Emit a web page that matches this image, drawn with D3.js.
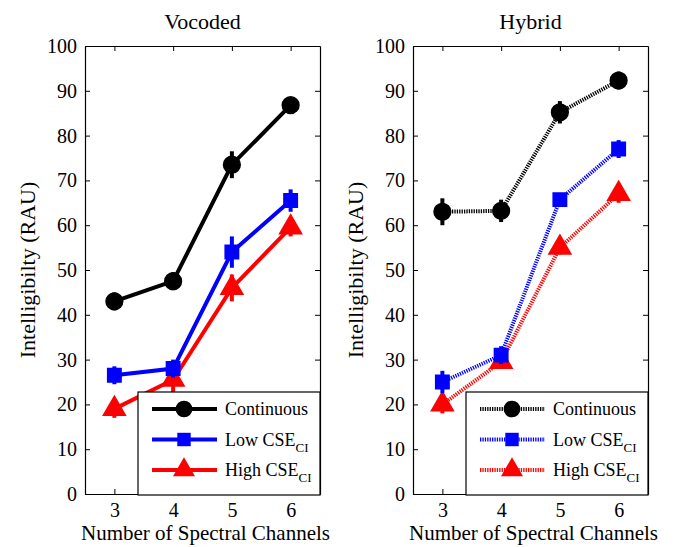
<!DOCTYPE html>
<html>
<head>
<meta charset="utf-8">
<script src="https://cdn.jsdelivr.net/npm/d3@7"></script>
<style>
  body { margin: 0; background: #fff; }
</style>
</head>
<body>
<svg id="chart" width="674" height="547"></svg>
<script>
// data
const channels = [3, 4, 5, 6];
const yTicks = [0, 10, 20, 30, 40, 50, 60, 70, 80, 90, 100];

const vocContinuous = [43, 47.5, 73.5, 86.8];
const vocContinuousErr = [2, 2, 3, 1.5];
const vocLow = [26.5, 28, 54, 65.5];
const vocLowErr = [2, 2, 3.5, 2.5];
const vocHigh = [19, 25.5, 46, 59.5];
const vocHighErr = [2, 3, 3, 2];

const hybContinuous = [63, 63.2, 85.2, 92.3];
const hybContinuousErr = [3, 2.5, 2.5, 2];
const hybLow = [25, 31, 65.7, 77];
const hybLowErr = [2.5, 2, 1.5, 2];
const hybHigh = [20, 29.5, 55, 67];
const hybHighErr = [2, 1.5, 1.5, 2];

const seriesNames = ["Continuous", "Low CSE", "High CSE"];
const colors = ["#000", "#0000ff", "#ff0000"];
const shapes = [d3.symbolCircle, d3.symbolSquare, d3.symbolTriangle];
const shapeSizes = [220, 180, 210];

const serif = "Liberation Serif, Times New Roman, Times, DejaVu Serif, serif";
const svg = d3.select("#chart");
const plotTop = 46, plotBottom = 494;

const panels = [
  { title: "Vocoded", left: 85, right: 320, dash: null,
    data: [[vocContinuous, vocContinuousErr], [vocLow, vocLowErr], [vocHigh, vocHighErr]] },
  { title: "Hybrid", left: 413, right: 648, dash: "1.3,1.1",
    data: [[hybContinuous, hybContinuousErr], [hybLow, hybLowErr], [hybHigh, hybHighErr]] }
];

function label(sel, size) {
  return sel.attr("font-family", serif).attr("font-size", size).attr("fill", "#000");
}

panels.forEach(function(p) {
  let x = d3.scaleLinear().domain([2.5, 6.5]).range([p.left, p.right]);
  let y = d3.scaleLinear().domain([0, 100]).range([plotBottom, plotTop]);
  let g = svg.append("g");

  // axes on all four sides (box)
  let axes = [
    g.append("g").attr("transform", "translate(0," + plotBottom + ")")
      .call(d3.axisBottom(x).tickValues(channels).tickFormat(d3.format("d")).tickSizeInner(-5).tickSizeOuter(0).tickPadding(9)),
    g.append("g").attr("transform", "translate(0," + plotTop + ")")
      .call(d3.axisTop(x).tickValues(channels).tickFormat("").tickSizeInner(-5).tickSizeOuter(0)),
    g.append("g").attr("transform", "translate(" + p.left + ",0)")
      .call(d3.axisLeft(y).tickValues(yTicks).tickSizeInner(-5).tickSizeOuter(0).tickPadding(8)),
    g.append("g").attr("transform", "translate(" + p.right + ",0)")
      .call(d3.axisRight(y).tickValues(yTicks).tickFormat("").tickSizeInner(-5).tickSizeOuter(0))
  ];
  axes.forEach(function(a) { a.attr("font-family", serif).attr("font-size", 20); });
  g.selectAll(".domain").attr("stroke", "#000").attr("stroke-width", 1.2);
  g.selectAll(".tick line").attr("stroke", "#000");
  g.selectAll(".tick text").attr("fill", "#000");

  label(g.append("text"), 22).attr("x", (p.left + p.right) / 2).attr("y", 29)
    .attr("text-anchor", "middle").text(p.title);
  label(g.append("text"), 21).attr("x", (p.left + p.right) / 2 + 3).attr("y", 540)
    .attr("text-anchor", "middle").text("Number of Spectral Channels");
  label(g.append("text"), 22)
    .attr("transform", "translate(" + (p.left - 50) + "," + ((plotTop + plotBottom) / 2) + ") rotate(-90)")
    .attr("text-anchor", "middle").text("Intelligibilty (RAU)");

  let line = d3.line().x(function(d, i) { return x(channels[i]); }).y(function(d) { return y(d); });

  // draw series from back (high) to front (continuous)
  [2, 1, 0].forEach(function(s) {
    let vals = p.data[s][0], errs = p.data[s][1];
    g.append("path").datum(vals).attr("d", line).attr("fill", "none")
      .attr("stroke", colors[s]).attr("stroke-width", 4)
      .attr("stroke-dasharray", p.dash);
    vals.forEach(function(v, i) {
      g.append("line").attr("x1", x(channels[i])).attr("x2", x(channels[i]))
        .attr("y1", y(v - errs[i])).attr("y2", y(v + errs[i]))
        .attr("stroke", colors[s]).attr("stroke-width", 4);
      g.append("path").attr("d", d3.symbol().type(shapes[s]).size(shapeSizes[s])())
        .attr("transform", "translate(" + x(channels[i]) + "," + y(v) + ")")
        .attr("fill", colors[s]).attr("stroke", colors[s]).attr("stroke-width", 1.5);
    });
  });

  // legend
  let lx = p.right - 182, ly = 392;
  let leg = g.append("g");
  leg.append("rect").attr("x", lx).attr("y", ly).attr("width", 182).attr("height", 103)
    .attr("fill", "#fff").attr("stroke", "#000").attr("stroke-width", 1.2);
  seriesNames.forEach(function(name, s) {
    let yy = ly + 17 + s * 30.5;
    leg.append("line").attr("x1", lx + 14).attr("x2", lx + 79).attr("y1", yy).attr("y2", yy)
      .attr("stroke", colors[s]).attr("stroke-width", 4).attr("stroke-dasharray", p.dash);
    leg.append("path").attr("d", d3.symbol().type(shapes[s]).size(shapeSizes[s])())
      .attr("transform", "translate(" + (lx + 46) + "," + yy + ")").attr("fill", colors[s]);
    let t = label(leg.append("text"), 18).attr("x", lx + 87).attr("y", yy + 6).text(name);
    if (s > 0) {
      t.append("tspan").attr("dy", 6).attr("font-size", 13).text("CI");
    }
  });
});
</script>
</body>
</html>
